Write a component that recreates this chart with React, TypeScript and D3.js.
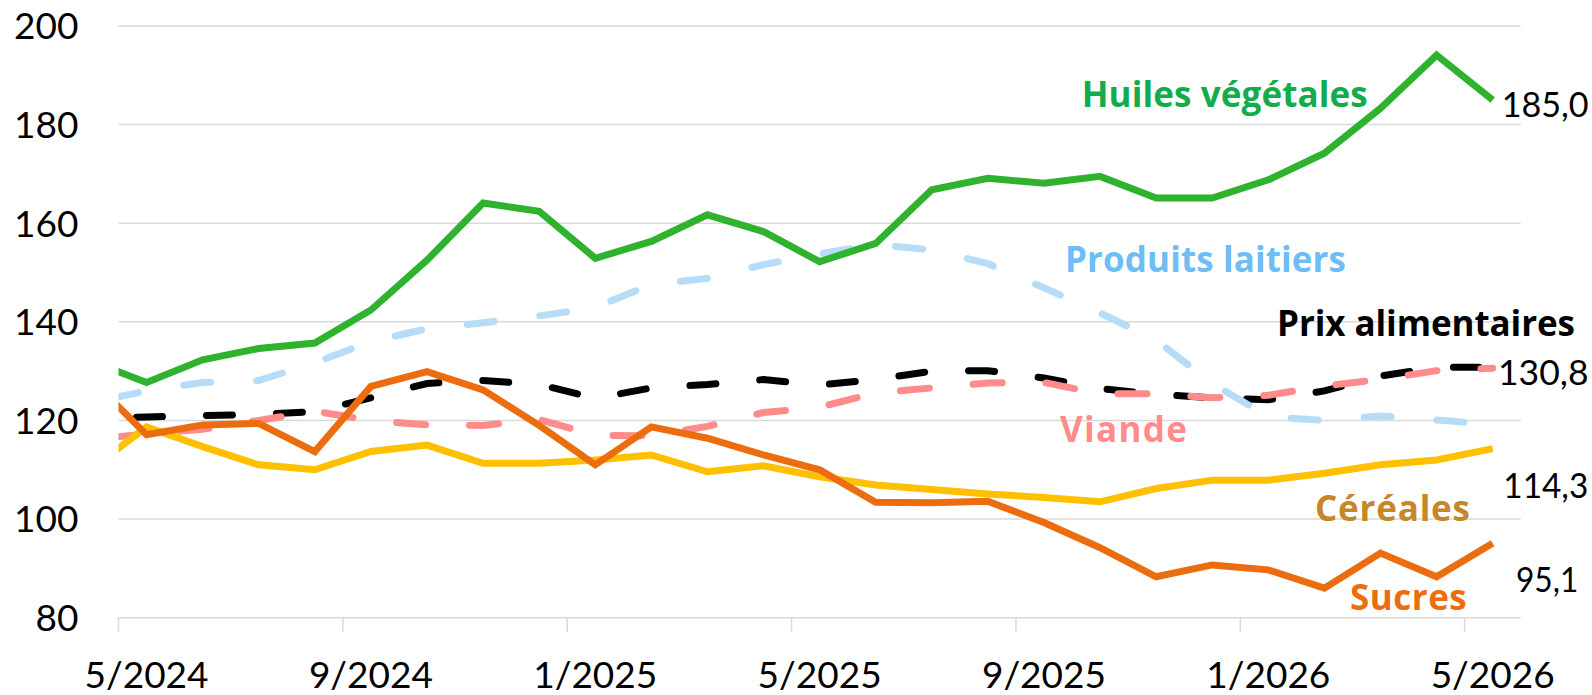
import React from "react";
import * as d3 from "d3";

// month index: 0 = start of May 2024; data points sit at mid-month (Apr 2024 .. May 2026)
const months = d3.range(-1, 25);
const huiles = [132.1, 127.7, 132.3, 134.6, 135.7, 142.4, 152.5, 164.1, 162.4, 152.9, 156.3, 161.7, 158.3, 152.2, 155.9, 166.8, 169.1, 168.1, 169.5, 165.1, 165.1, 168.8, 174.2, 183.3, 194.1, 185.0];
const laitiers = [123.6, 126.0, 127.7, 128.1, 131.7, 136.0, 138.6, 139.8, 141.2, 142.9, 147.6, 148.8, 151.6, 153.8, 155.7, 154.6, 151.8, 146.9, 141.8, 136.3, 127.5, 120.8, 120.0, 120.9, 120.1, 119.2];
const prix = [120.5, 120.7, 121.0, 121.2, 121.8, 124.6, 127.5, 128.1, 127.3, 124.5, 126.6, 127.3, 128.3, 127.2, 128.3, 130.0, 130.1, 128.6, 126.5, 125.3, 124.6, 124.2, 126.0, 129.0, 130.8, 130.8];
const viande = [116.1, 117.3, 118.2, 120.0, 121.9, 120.0, 119.1, 119.0, 120.2, 117.0, 116.9, 118.8, 121.6, 122.7, 125.6, 126.6, 127.6, 127.7, 125.4, 125.4, 124.6, 125.1, 127.0, 128.3, 130.1, 130.6];
const cereales = [110.0, 118.7, 114.7, 111.0, 110.0, 113.7, 115.0, 111.3, 111.3, 112.0, 113.0, 109.6, 110.8, 108.6, 106.9, 106.0, 105.1, 104.4, 103.5, 106.2, 107.9, 107.9, 109.3, 111.0, 112.0, 114.3];
const sucres = [128.5, 117.1, 119.1, 119.4, 113.7, 126.9, 129.9, 126.2, 119.0, 111.0, 118.7, 116.4, 113.0, 110.0, 103.4, 103.3, 103.6, 99.3, 94.2, 88.3, 90.7, 89.7, 86.0, 93.1, 88.3, 95.1];

const yTicks = [80, 100, 120, 140, 160, 180, 200];
const xTickMonths = [0, 4, 8, 12, 16, 20, 24];
const xTickLabels = ["5/2024", "9/2024", "1/2025", "5/2025", "9/2025", "1/2026", "5/2026"];

const W = 1592, H = 695;
const FONT = "Lato, 'Open Sans', sans-serif";
const LABEL_FONT = "'Open Sans', Lato, sans-serif";

export default function App() {
  const x = d3.scaleLinear().domain([0, 25]).range([118.5, 1520.7]);
  const y = d3.scaleLinear().domain([80, 200]).range([617.7, 26]);
  const line = (vals: number[]) =>
    d3.line<number>().x((_, i) => x(months[i] + 0.5)).y((v) => y(v))(vals) || "";

  const series = [
    { vals: prix, color: "#000000", dash: "26,44", off: 24 },
    { vals: viande, color: "#FF8B8B", dash: "29,44", off: 56 },
    { vals: laitiers, color: "#B6DCF7", dash: "27,46", off: 51 },
    { vals: cereales, color: "#FFC000", dash: null, off: 0 },
    { vals: sucres, color: "#EC6D0F", dash: null, off: 0 },
    { vals: huiles, color: "#2FB32F", dash: null, off: 0 },
  ];

  const labels = [
    { t: "Huiles végétales", x: 1081.7, y: 106.5, w: 286, c: "#12AC4C" },
    { t: "Produits laitiers", x: 1065, y: 271.7, w: 281, c: "#6EBDF5" },
    { t: "Prix alimentaires", x: 1277, y: 336.3, w: 298, c: "#000000" },
    { t: "Viande", x: 1060, y: 441.7, w: 127, c: "#FF8B8B" },
    { t: "Céréales", x: 1315, y: 520.8, w: 155, c: "#C6862A" },
    { t: "Sucres", x: 1350, y: 609.8, w: 116.7, c: "#EC6D0F" },
  ];
  const values = [
    { t: "185,0", x: 1501.7, y: 116.7, w: 87 },
    { t: "130,8", x: 1498, y: 385, w: 90.5 },
    { t: "114,3", x: 1503.3, y: 498.3, w: 85 },
    { t: "95,1", x: 1516, y: 591.7, w: 62.3 },
  ];

  return (
    <div style={{ position: "fixed", left: 0, top: 0, width: W, height: H, background: "#fff" }}>
      <svg width={W} height={H} style={{ display: "block" }} fontFamily={FONT}>
        <defs>
          <clipPath id="plot">
            <rect x={118.5} y={0} width={1480} height={H} />
          </clipPath>
        </defs>
        {yTicks.map((t) => (
          <g key={t}>
            <line x1={x(0)} x2={x(25)} y1={y(t)} y2={y(t)} stroke="#D9D9D9" strokeWidth={1.5} />
            <text x={78.5} y={y(t)} dy="0.36em" textAnchor="end" fontSize={37} fill="#000">
              {t}
            </text>
          </g>
        ))}
        {xTickMonths.map((m, i) => (
          <g key={m}>
            <line x1={x(m)} x2={x(m)} y1={y(80)} y2={y(80) + 14} stroke="#D9D9D9" strokeWidth={1.5} />
            <text x={x(m + 0.5)} y={688.3} textAnchor="middle" fontSize={37} fill="#000">
              {xTickLabels[i]}
            </text>
          </g>
        ))}
        <g clipPath="url(#plot)">
          {series.map((s, i) => (
            <path
              key={i}
              d={line(s.vals)}
              fill="none"
              stroke={s.color}
              strokeWidth={7}
              strokeLinejoin="miter"
              strokeLinecap={s.dash ? "round" : "butt"}
              strokeDasharray={s.dash || undefined}
              strokeDashoffset={s.off}
            />
          ))}
        </g>
        {labels.map((l) => (
          <text key={l.t} x={l.x} y={l.y} fill={l.c} fontSize={35} fontWeight={700}
            fontFamily={LABEL_FONT} style={{ fontVariantLigatures: "none" }}
            textLength={l.w} lengthAdjust="spacing">
            {l.t}
          </text>
        ))}
        {values.map((v) => (
          <text key={v.t} x={v.x} y={v.y} fill="#000" fontSize={35}
            textLength={v.w} lengthAdjust="spacingAndGlyphs">
            {v.t}
          </text>
        ))}
      </svg>
    </div>
  );
}
